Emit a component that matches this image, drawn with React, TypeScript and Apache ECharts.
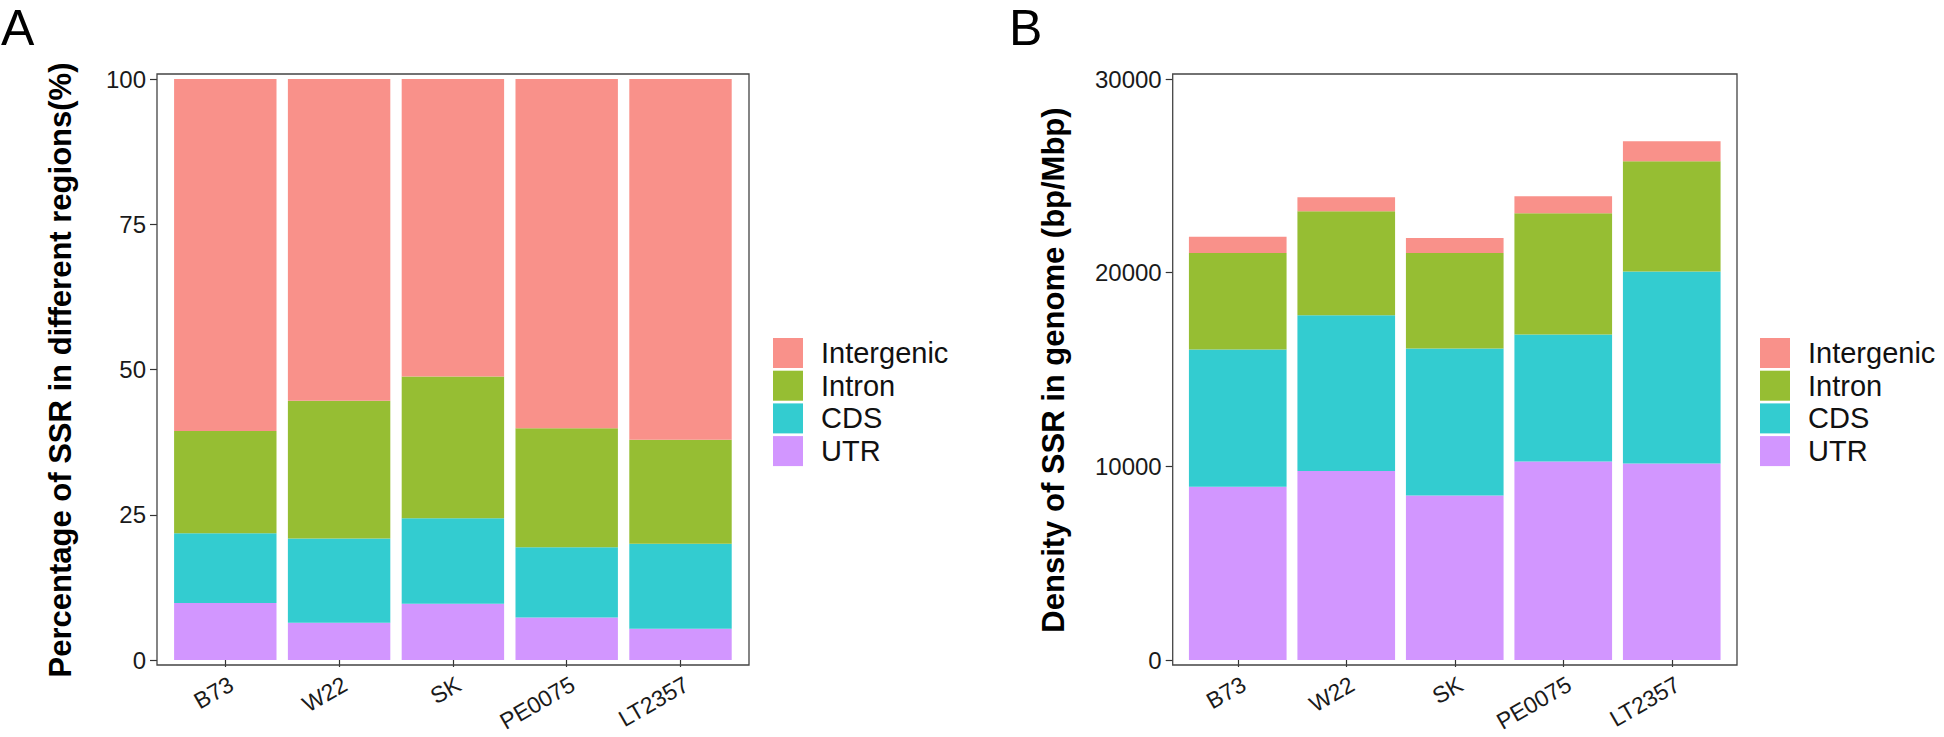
import React, { useEffect, useRef } from "react";
import * as echarts from "echarts";

const categories = ["B73", "W22", "SK", "PE0075", "LT2357"];
const legendOrder = ["Intergenic", "Intron", "CDS", "UTR"];

// Panel A: percentage of SSR in each region (%)
const pctUTR = [9.8, 6.4, 9.7, 7.3, 5.4];
const pctCDS = [12.0, 14.5, 14.7, 12.1, 14.6];
const pctIntron = [17.6, 23.7, 24.4, 20.5, 17.9];
const pctIntergenic = [60.6, 55.4, 51.2, 60.1, 62.1];

// Panel B: density of SSR in genome (bp/Mbp)
const denUTR = [8940, 9760, 8500, 10250, 10150];
const denCDS = [7090, 8040, 7580, 6560, 9910];
const denIntron = [4980, 5370, 4930, 6260, 5690];
const denIntergenic = [850, 730, 780, 880, 1040];

const yTicksA = [0, 25, 50, 75, 100];
const yTicksB = [0, 10000, 20000, 30000];

const colors: Record<string, string> = {
  Intergenic: "#F9918A",
  Intron: "#96BE33",
  CDS: "#33CCD0",
  UTR: "#D296FF",
};

const FONT = "'Liberation Sans', Arial, Helvetica, sans-serif";

export default function App() {
  const ref = useRef<HTMLDivElement>(null);

  useEffect(() => {
    document.body.style.margin = "0";
    document.body.style.overflow = "hidden";
    document.documentElement.style.overflow = "hidden";
    if (!ref.current) return;
    const chart = echarts.init(ref.current, undefined, { renderer: "svg" });

    const panels = [
      {
        gridLeft: 168.4, gridWidth: 569, box: { x: 157, y: 74, w: 592, h: 591 },
        ticks: yTicksA,
        data: { UTR: pctUTR, CDS: pctCDS, Intron: pctIntron, Intergenic: pctIntergenic },
        legendLeft: 773,
      },
      {
        gridLeft: 1183.5, gridWidth: 542.5, box: { x: 1172.7, y: 74, w: 564.3, h: 591 },
        ticks: yTicksB,
        data: { UTR: denUTR, CDS: denCDS, Intron: denIntron, Intergenic: denIntergenic },
        legendLeft: 1760,
      },
    ];

    const grid = panels.map((p) => ({
      left: p.gridLeft, width: p.gridWidth, top: 79, height: 581,
      containLabel: false, outerBoundsMode: "none",
    }));

    const xAxis = panels.map((p, i) => ({
      type: "category" as const,
      gridIndex: i,
      data: categories,
      offset: 5,
      axisLine: { show: false },
      axisTick: { show: true, alignWithLabel: true, length: 7, lineStyle: { color: "#333", width: 1.2 } },
      axisLabel: {
        rotate: 30, fontSize: 23, lineHeight: 24, color: "#1a1a1a", fontFamily: FONT, margin: 7,
        align: "right", verticalAlign: "top",
      },
      splitLine: { show: false },
    }));

    const yAxis = panels.map((p, i) => ({
      type: "value" as const,
      gridIndex: i,
      min: p.ticks[0],
      max: p.ticks[p.ticks.length - 1],
      interval: p.ticks[1] - p.ticks[0],
      offset: p.gridLeft - p.box.x,
      axisLine: { show: false },
      axisTick: { show: true, length: 7, lineStyle: { color: "#333", width: 1.2 } },
      axisLabel: {
        fontSize: 24, color: "#1a1a1a", fontFamily: FONT, margin: 11,
        formatter: (v: number) => String(v),
      },
      splitLine: { show: false },
    }));

    const stackOrder = ["UTR", "CDS", "Intron", "Intergenic"];
    const series: any[] = [];
    panels.forEach((p, i) => {
      stackOrder.forEach((name) => {
        series.push({
          type: "bar",
          name,
          xAxisIndex: i,
          yAxisIndex: i,
          stack: "s" + i,
          barCategoryGap: "10%",
          data: (p.data as any)[name],
          itemStyle: { color: colors[name] },
          emphasis: { disabled: true },
        });
      });
    });

    const legend = panels.map((p) => ({
      data: legendOrder,
      orient: "vertical" as const,
      left: p.legendLeft,
      top: 338,
      padding: 0,
      itemWidth: 30,
      itemHeight: 30,
      itemGap: 2.7,
      icon: "rect",
      selectedMode: false,
      textStyle: {
        fontSize: 29, fontFamily: FONT, color: "#111", lineHeight: 30,
        padding: [0, 0, 0, 13],
      },
    }));

    const graphic: any[] = [];
    panels.forEach((p) => {
      graphic.push({
        type: "rect",
        shape: { x: p.box.x, y: p.box.y, width: p.box.w, height: p.box.h },
        style: { fill: "none", stroke: "#444", lineWidth: 1.3 },
        z: 10,
      });
    });
    graphic.push(
      {
        type: "text", x: 60, y: 370, rotation: Math.PI / 2,
        style: {
          text: "Percentage of SSR in different regions(%)", font: `bold 31px ${FONT}`,
          fill: "#000", textAlign: "center", textVerticalAlign: "middle",
        },
      },
      {
        type: "text", x: 1053, y: 370, rotation: Math.PI / 2,
        style: {
          text: "Density of SSR in genome (bp/Mbp)", font: `bold 31px ${FONT}`,
          fill: "#000", textAlign: "center", textVerticalAlign: "middle",
        },
      },
      {
        type: "text", x: 1, y: 28,
        style: { text: "A", font: `50px ${FONT}`, fill: "#000", textAlign: "left", textVerticalAlign: "middle" },
      },
      {
        type: "text", x: 1009, y: 28,
        style: { text: "B", font: `50px ${FONT}`, fill: "#000", textAlign: "left", textVerticalAlign: "middle" },
      }
    );

    chart.setOption({
      animation: false,
      backgroundColor: "#ffffff",
      grid,
      xAxis,
      yAxis,
      series,
      legend,
      graphic,
    });

    return () => chart.dispose();
  }, []);

  return (
    <div
      ref={ref}
      style={{ position: "fixed", left: 0, top: 0, width: 1944, height: 737, overflow: "hidden" }}
    />
  );
}
